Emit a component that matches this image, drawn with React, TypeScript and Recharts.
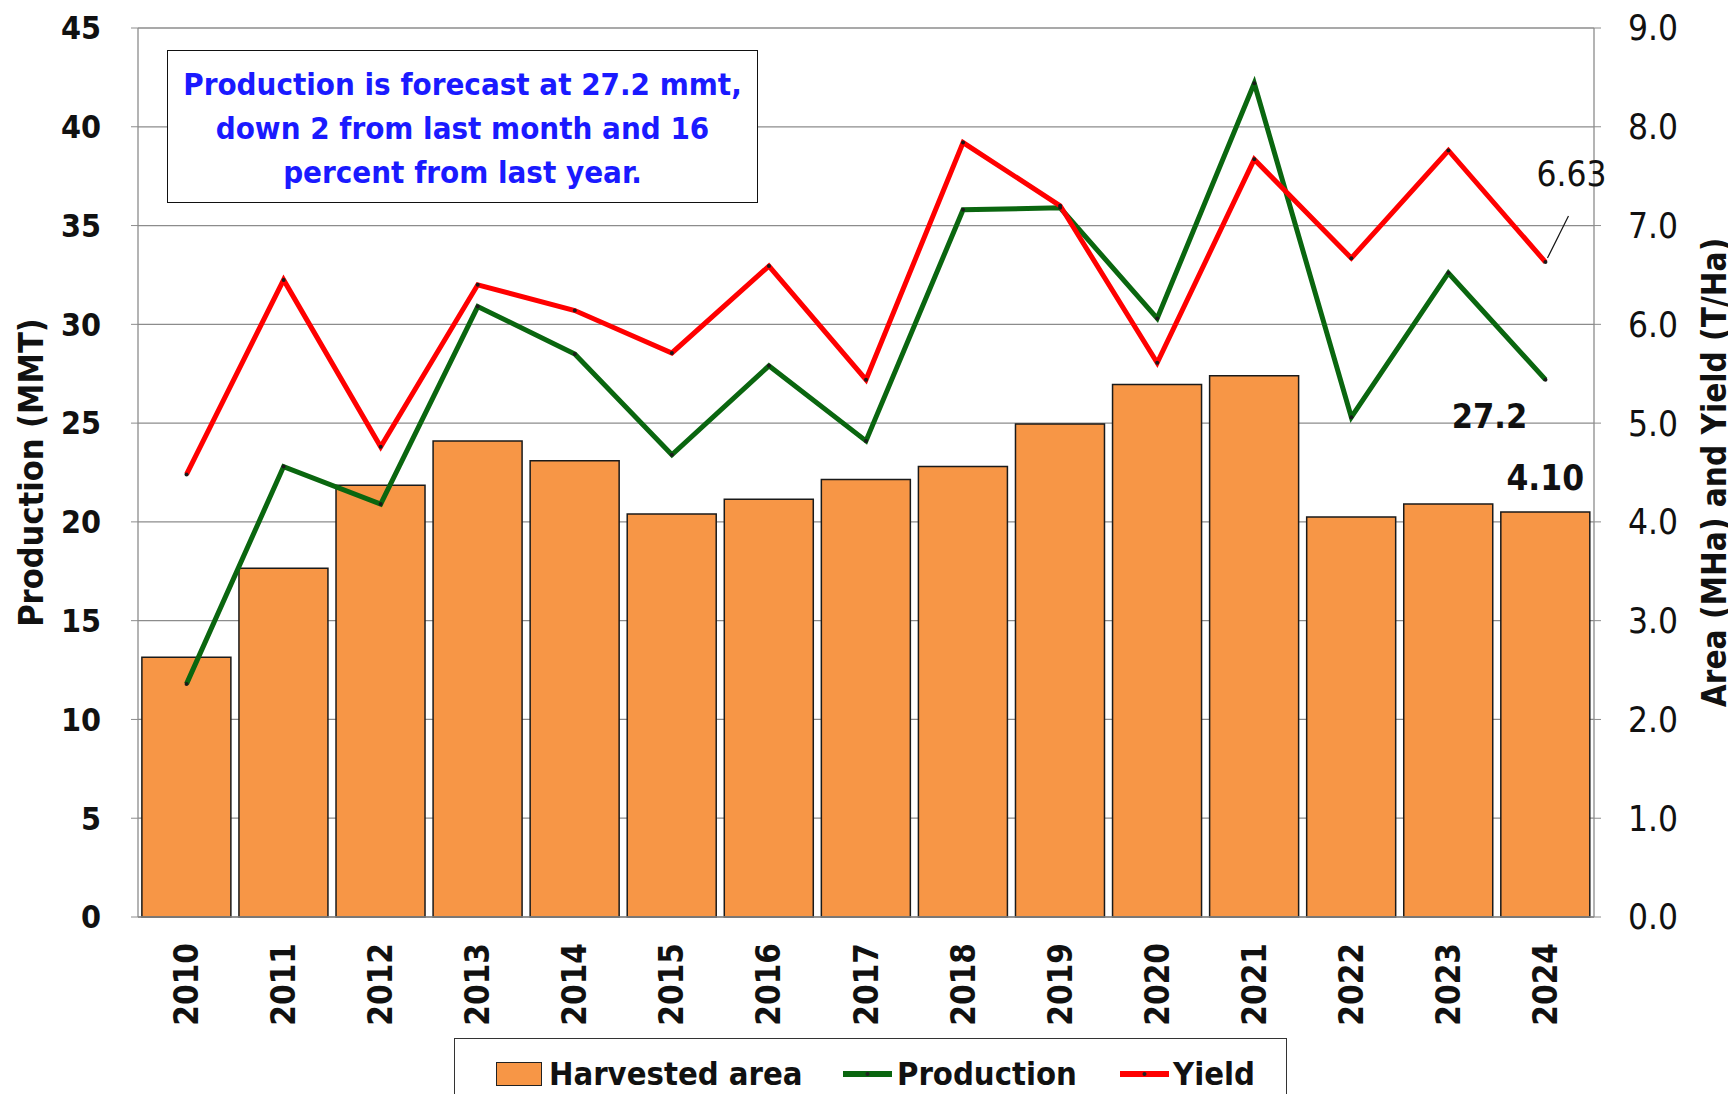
import React from 'react';
import { ComposedChart, Bar, Line, XAxis, YAxis, CartesianGrid, LabelList } from 'recharts';

const YEARS = ['2010', '2011', '2012', '2013', '2014', '2015', '2016', '2017', '2018', '2019', '2020', '2021', '2022', '2023', '2024'];
// harvested area, MHa (right axis)
const AREA = [2.63, 3.53, 4.37, 4.82, 4.62, 4.08, 4.23, 4.43, 4.56, 4.99, 5.39, 5.48, 4.05, 4.18, 4.10];
// production, MMT (left axis)
const PRODUCTION = [11.8, 22.8, 20.9, 30.9, 28.5, 23.4, 27.9, 24.1, 35.8, 35.9, 30.3, 42.2, 25.3, 32.6, 27.2];
// yield, T/Ha (right axis)
const YIELD = [4.48, 6.45, 4.76, 6.40, 6.14, 5.71, 6.59, 5.44, 7.84, 7.20, 5.61, 7.67, 6.67, 7.76, 6.63];

const LEFT_TICKS = [0, 5, 10, 15, 20, 25, 30, 35, 40, 45];
const RIGHT_TICKS = [0, 1, 2, 3, 4, 5, 6, 7, 8, 9];

const NOTE = ['Production is forecast at 27.2 mmt,', 'down 2 from last month and 16', 'percent from last year.'];

const FONT = "'DejaVu Sans Condensed', 'DejaVu Sans', sans-serif";
const ORANGE = '#f79646';
const GREEN = '#0a660f';
const RED = '#ff0000';
const GRID = '#8c8c8c';
const LAST = YEARS.length - 1;

const data = YEARS.map((year, i) => ({
  year,
  area: AREA[i],
  production: PRODUCTION[i],
  yield: YIELD[i],
}));

const YearTick = (props: any) => {
  const { x, y, payload } = props;
  return (
    <g transform={`translate(${x},${y})`}>
      <text
        x={-24}
        y={0}
        dy="0.35em"
        textAnchor="end"
        transform="rotate(-90)"
        fontFamily={FONT}
        fontWeight="bold"
        fontSize={33}
        fill="#111"
      >
        {payload.value}
      </text>
    </g>
  );
};

const AreaLabel = (props: any) => {
  const { x, y, width, value, index } = props;
  if (index !== LAST) return null;
  return (
    <text x={x + width / 2} y={y - 34} dy="0.35em" textAnchor="middle" fontFamily={FONT} fontWeight="bold" fontSize={35} fill="#111">
      {Number(value).toFixed(2)}
    </text>
  );
};

const ProductionLabel = (props: any) => {
  const { x, y, value, index } = props;
  if (index !== LAST) return null;
  return (
    <text x={x - 56} y={y + 36} dy="0.35em" textAnchor="middle" fontFamily={FONT} fontWeight="bold" fontSize={34} fill="#111">
      {Number(value).toFixed(1)}
    </text>
  );
};

const YieldLabel = (props: any) => {
  const { x, y, value, index } = props;
  if (index !== LAST) return null;
  return (
    <g>
      <line x1={x + 2} y1={y - 4} x2={x + 23} y2={y - 46} stroke="#111" strokeWidth={1.2} />
      <text x={x + 26} y={y - 88} dy="0.35em" textAnchor="middle" fontFamily={FONT} fontSize={35} fill="#111">
        {Number(value).toFixed(2)}
      </text>
    </g>
  );
};

const tickStyle = { fontFamily: FONT, fontWeight: 'bold' as const, fontSize: 32, fill: '#111' };

const LineSwatch = ({ color }: { color: string }) => (
  <svg width={49} height={24} style={{ display: 'block' }}>
    <line x1={0} y1={12} x2={49} y2={12} stroke={color} strokeWidth={6} />
    <circle cx={24.5} cy={12} r={2} fill="#222" />
  </svg>
);

const App: React.FC = () => {
  return (
    <div style={{ position: 'relative', width: 1720, height: 1086, background: '#fff', fontFamily: FONT }}>
      <ComposedChart
        width={1720}
        height={1086}
        data={data}
        margin={{ top: 20, right: 4, left: 5, bottom: 57 }}
        barCategoryGap="4%"
      >
        <CartesianGrid yAxisId="left" horizontal vertical={false} stroke={GRID} strokeWidth={1.3} />
        <XAxis
          dataKey="year"
          height={120}
          tick={<YearTick />}
          tickLine={false}
          tickSize={0}
          axisLine={{ stroke: GRID, strokeWidth: 1.3 }}
          interval={0}
        />
        <YAxis
          yAxisId="left"
          width={125}
          domain={[0, 45]}
          ticks={LEFT_TICKS}
          tick={tickStyle}
          tickSize={7}
          tickMargin={30}
          tickLine={{ stroke: GRID }}
          axisLine={{ stroke: GRID, strokeWidth: 1.3 }}
          label={{
            value: 'Production (MMT)',
            angle: -90,
            position: 'insideLeft',
            offset: 18,
            style: { textAnchor: 'middle', fontFamily: FONT, fontWeight: 'bold', fontSize: 34, fill: '#111' },
          }}
        />
        <YAxis
          yAxisId="right"
          orientation="right"
          width={130}
          domain={[0, 9]}
          ticks={RIGHT_TICKS}
          tickFormatter={(v: number) => v.toFixed(1)}
          tick={{ ...tickStyle, fontWeight: 'normal', fontSize: 35 }}
          tickSize={7}
          tickMargin={27}
          tickLine={{ stroke: GRID }}
          axisLine={{ stroke: GRID, strokeWidth: 1.3 }}
          label={{
            value: 'Area (MHa) and Yield (T/Ha)',
            angle: -90,
            position: 'insideRight',
            offset: 10,
            style: { textAnchor: 'middle', fontFamily: FONT, fontWeight: 'bold', fontSize: 33, fill: '#111' },
          }}
        />
        <Bar yAxisId="right" dataKey="area" name="Harvested area" fill={ORANGE} stroke="#1a1a1a" strokeWidth={1.5} isAnimationActive={false}>
          <LabelList dataKey="area" content={<AreaLabel />} />
        </Bar>
        <Line
          yAxisId="left"
          type="linear"
          dataKey="production"
          name="Production"
          stroke={GREEN}
          strokeWidth={5}
          dot={{ r: 2, fill: '#1a1a1a', stroke: 'none' }}
          activeDot={false}
          isAnimationActive={false}
        >
          <LabelList dataKey="production" content={<ProductionLabel />} />
        </Line>
        <Line
          yAxisId="right"
          type="linear"
          dataKey="yield"
          name="Yield"
          stroke={RED}
          strokeWidth={5}
          dot={{ r: 2, fill: '#1a1a1a', stroke: 'none' }}
          activeDot={false}
          isAnimationActive={false}
        >
          <LabelList dataKey="yield" content={<YieldLabel />} />
        </Line>
      </ComposedChart>

      {/* text box in the upper left */}
      <div
        style={{
          position: 'absolute',
          left: 159,
          top: 42,
          width: 591,
          height: 153,
          boxSizing: 'border-box',
          border: '1.5px solid #111',
          background: '#fff',
          color: '#1a1aff',
          fontWeight: 'bold',
          fontSize: 31,
          lineHeight: '44px',
          textAlign: 'center',
          whiteSpace: 'nowrap',
          paddingTop: 11,
        }}
      >
        {NOTE.map((line) => (
          <div key={line}>{line}</div>
        ))}
      </div>

      {/* legend */}
      <div
        style={{
          position: 'absolute',
          left: 446,
          top: 1030,
          width: 833,
          height: 80,
          boxSizing: 'border-box',
          border: '1.5px solid #333',
          borderBottom: 'none',
          background: '#fff',
          display: 'flex',
          alignItems: 'flex-start',
          paddingTop: 18,
          paddingLeft: 41,
          fontWeight: 'bold',
          fontSize: 32.5,
          color: '#111',
          lineHeight: '34px',
        }}
      >
        <div style={{ width: 46, height: 24, background: ORANGE, border: '1.5px solid #222', boxSizing: 'border-box', marginTop: 5 }} />
        <span style={{ marginLeft: 7, width: 294 }}>Harvested area</span>
        <div style={{ marginTop: 5 }}>
          <LineSwatch color={GREEN} />
        </div>
        <span style={{ marginLeft: 5, width: 223 }}>Production</span>
        <div style={{ marginTop: 5 }}>
          <LineSwatch color={RED} />
        </div>
        <span style={{ marginLeft: 4 }}>Yield</span>
      </div>
    </div>
  );
};

export default App;
